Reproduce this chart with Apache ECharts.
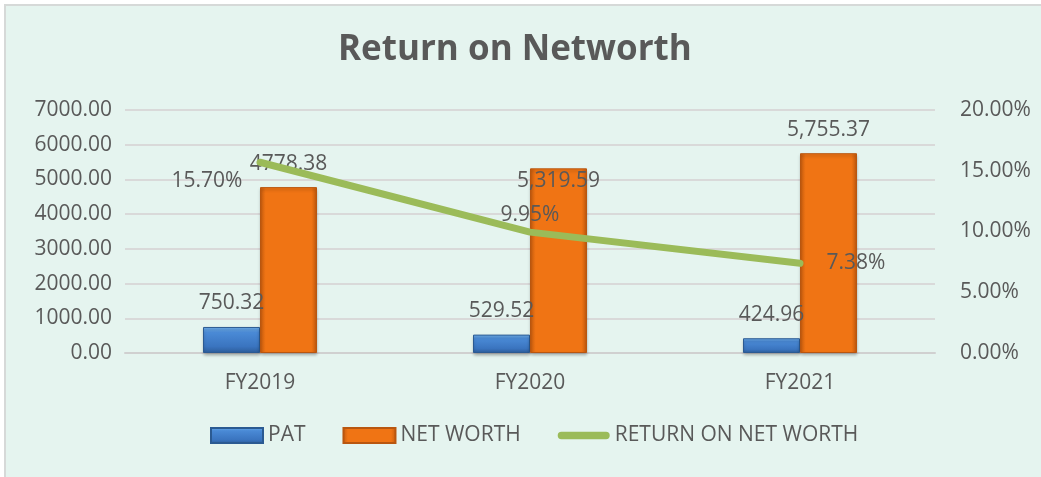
<!DOCTYPE html>
<html>
<head>
<meta charset="utf-8">
<script src="https://cdn.jsdelivr.net/npm/echarts@6/dist/echarts.min.js"></script>
<style>
  html, body { margin: 0; padding: 0; background: #fff; }
  #frame {
    position: absolute; left: 4px; top: 4px; width: 1045px; height: 480px;
    border: 2px solid #d6d9d8; background: #e5f4ef; box-sizing: border-box;
  }
  #chart { position: absolute; left: 0; top: 0; width: 1041px; height: 477px; }
</style>
</head>
<body>
<div id="frame"></div>
<div id="chart"></div>
<script>
// 数据
const categories = ['FY2019', 'FY2020', 'FY2021']
const patValues = [750.32, 529.52, 424.96]
const netWorthValues = [4778.38, 5319.59, 5755.37]
const netWorthLabels = ['4778.38', '5,319.59', '5,755.37']
const ronwValues = [0.157, 0.0995, 0.0738]
const leftTicks = [0, 1000, 2000, 3000, 4000, 5000, 6000, 7000]
const rightTicks = [0, 0.05, 0.1, 0.15, 0.2]

const textColor = '#595959'
const font = 'Open Sans'
const fs = 21

// 斜面效果的渐变
const barGradient = (edge, mid) => ({
  type: 'linear', x: 0, y: 0, x2: 1, y2: 0,
  colorStops: [
    { offset: 0, color: edge },
    { offset: 0.1, color: mid },
    { offset: 0.9, color: mid },
    { offset: 1, color: edge }
  ]
})
const patGradient = {
  type: 'linear', x: 0, y: 0, x2: 0, y2: 1,
  colorStops: [
    { offset: 0, color: '#72b2ee' },
    { offset: 0.22, color: '#4a8ad6' },
    { offset: 0.75, color: '#3a74bf' },
    { offset: 1, color: '#2c5c99' }
  ]
}
const barShadow = { shadowBlur: 3, shadowColor: 'rgba(0,0,0,0.25)', shadowOffsetY: 2 }

const chart = echarts.init(document.getElementById('chart'))

const options = {
  backgroundColor: 'transparent',
  textStyle: { fontFamily: font, color: textColor },
  title: {
    text: 'Return on Networth',
    left: 333,
    top: 28,
    textStyle: { fontFamily: font, fontSize: 35, fontWeight: 'bold', color: textColor }
  },
  legend: {
    bottom: 26,
    left: 205,
    itemWidth: 52,
    itemHeight: 15,
    itemGap: 37,
    textStyle: { fontSize: fs, color: textColor, fontFamily: font },
    data: [
      { name: 'PAT', icon: 'rect' },
      { name: 'NET WORTH', icon: 'rect' },
      { name: 'RETURN ON NET WORTH', icon: 'path://M4,0 L52,0 A4,4 0 0 1 52,8 L4,8 A4,4 0 0 1 4,0 Z' }
    ]
  },
  grid: { left: 125, right: 106, top: 110, bottom: 124, containLabel: false },
  xAxis: {
    type: 'category',
    data: categories,
    axisTick: { show: false },
    axisLine: { lineStyle: { color: '#d0d0d0', width: 2 } },
    axisLabel: { fontSize: fs, color: textColor, margin: 20, fontFamily: font }
  },
  yAxis: [
    {
      type: 'value',
      min: leftTicks[0],
      max: leftTicks[leftTicks.length - 1],
      interval: 1000,
      axisLine: { show: false },
      axisTick: { show: false },
      splitLine: { lineStyle: { color: '#d9d9d9', width: 2 } },
      axisLabel: {
        fontSize: fs, color: textColor, margin: 13, fontFamily: font,
        formatter: v => v.toFixed(2)
      }
    },
    {
      type: 'value',
      min: rightTicks[0],
      max: rightTicks[rightTicks.length - 1],
      interval: 0.05,
      axisLine: { show: false },
      axisTick: { show: false },
      splitLine: { show: false },
      axisLabel: {
        fontSize: fs, color: textColor, margin: 25, fontFamily: font,
        formatter: v => (v * 100).toFixed(2) + '%'
      }
    }
  ],
  series: [
    {
      name: 'PAT',
      type: 'bar',
      barWidth: 57,
      barGap: '0%',
      itemStyle: { color: patGradient, borderColor: '#2b5a92', borderWidth: 1, ...barShadow },
      label: {
        show: true, position: 'top', distance: 13,
        fontSize: fs, color: textColor, fontFamily: font,
        formatter: p => p.value.toFixed(2)
      },
      data: patValues
    },
    {
      name: 'NET WORTH',
      type: 'bar',
      barWidth: 57,
      barGap: '0%',
      itemStyle: { color: barGradient('#c45a0e', '#f07414'), borderColor: '#b9560f', borderWidth: 1, ...barShadow },
      label: {
        show: true, position: 'top', distance: 13,
        fontSize: fs, color: textColor, fontFamily: font,
        formatter: p => netWorthLabels[p.dataIndex]
      },
      data: netWorthValues.map((v, i) => i === 1
        ? { value: v, label: { position: 'insideTop', distance: 2 } }
        : v)
    },
    {
      name: 'RETURN ON NET WORTH',
      type: 'line',
      yAxisIndex: 1,
      symbol: 'circle',
      symbolSize: 1,
      showSymbol: true,
      lineStyle: { color: '#9bbb59', width: 7, cap: 'round' },
      itemStyle: { color: '#9bbb59' },
      label: {
        show: true, fontSize: fs, color: textColor, fontFamily: font,
        formatter: p => (p.value * 100).toFixed(2) + '%'
      },
      labelLayout: { hideOverlap: false },
      data: ronwValues.map((v, i) => {
        const pos = [
          { position: [-88, 9] },
          { position: 'top', distance: 6 },
          { position: 'right', distance: 26 }
        ][i]
        return { value: v, label: pos }
      })
    }
  ]
}

chart.setOption(options)
</script>
</body>
</html>
